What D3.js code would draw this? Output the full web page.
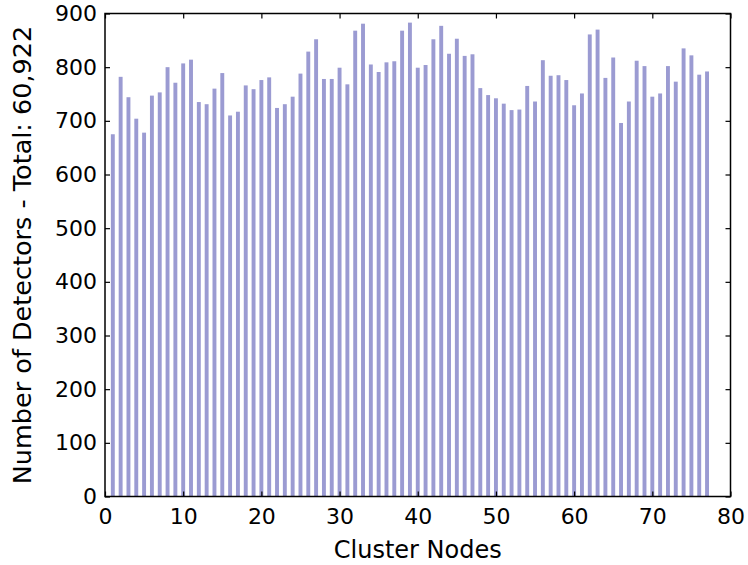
<!DOCTYPE html>
<html>
<head>
<meta charset="utf-8">
<script src="https://cdn.jsdelivr.net/npm/d3@7"></script>
<style>
  html, body { margin: 0; padding: 0; background: #fff; }
  svg { display: block; }
  text { font-family: "DejaVu Sans", sans-serif; fill: #000; }
</style>
</head>
<body>
<script>
// Detectors per cluster node (nodes 1..77)
const nodes = d3.range(1, 78);
const detectors = [
  675, 782, 744, 704, 678, 747, 753, 800, 771, 807,
  814, 735, 731, 760, 789, 710, 717, 766, 759, 776,
  781, 724, 731, 745, 788, 829, 852, 778, 778, 799,
  768, 868, 881, 805, 791, 809, 811, 868, 883, 799,
  804, 852, 877, 825, 853, 821, 824, 761, 748, 742,
  732, 720, 721, 765, 736, 813, 784, 785, 776, 729,
  751, 861, 870, 780, 818, 696, 736, 812, 802, 745,
  751, 802, 773, 835, 822, 786, 792
];
const xTicks = [0, 10, 20, 30, 40, 50, 60, 70, 80];
const yTicks = [0, 100, 200, 300, 400, 500, 600, 700, 800, 900];
const xTitle = "Cluster Nodes";
const yTitle = "Number of Detectors - Total: 60,922";

const W = 748, H = 565;
const margin = { left: 105, right: 17.5, top: 13.5, bottom: 68.5 };
const iw = W - margin.left - margin.right;
const ih = H - margin.top - margin.bottom;

const svg = d3.select("body").append("svg").attr("width", W).attr("height", H);
const g = svg.append("g").attr("transform", `translate(${margin.left},${margin.top})`);

const x = d3.scaleLinear().domain([0, 80]).range([0, iw]);
const y = d3.scaleLinear().domain([0, 900]).range([ih, 0]);
const barW = 0.5;

g.append("defs").append("clipPath").attr("id", "plot")
  .append("rect").attr("width", iw).attr("height", ih);

g.append("g").attr("clip-path", "url(#plot)")
  .selectAll("rect").data(nodes).join("rect")
  .attr("x", (d) => x(d - barW / 2))
  .attr("width", x(barW) - x(0))
  .attr("y", (d, i) => y(detectors[i]))
  .attr("height", (d, i) => y(0) - y(detectors[i]))
  .attr("fill", "#9b9bd2");

const tickLen = 5;
// Inward ticks on all four sides
const axB = g.append("g").attr("transform", `translate(0,${ih})`)
  .call(d3.axisBottom(x).tickValues(xTicks).tickSizeInner(-tickLen).tickSizeOuter(0).tickPadding(12));
const axT = g.append("g")
  .call(d3.axisTop(x).tickValues(xTicks).tickSizeInner(-tickLen).tickSizeOuter(0).tickFormat(""));
const axL = g.append("g")
  .call(d3.axisLeft(y).tickValues(yTicks).tickSizeInner(-tickLen).tickSizeOuter(0).tickPadding(8));
const axR = g.append("g").attr("transform", `translate(${iw},0)`)
  .call(d3.axisRight(y).tickValues(yTicks).tickSizeInner(-tickLen).tickSizeOuter(0).tickFormat(""));

[axB, axT, axL, axR].forEach((a) => {
  a.select(".domain").remove();
  a.selectAll(".tick line").attr("stroke", "#000").attr("stroke-width", 1.2);
  a.selectAll(".tick text").style("font-size", "22px").style("font-family", "DejaVu Sans");
});

g.append("rect").attr("width", iw).attr("height", ih)
  .attr("fill", "none").attr("stroke", "#000").attr("stroke-width", 1.5);

svg.append("text")
  .attr("x", margin.left + iw / 2).attr("y", 558)
  .attr("text-anchor", "middle").style("font-size", "24px")
  .text(xTitle);

svg.append("text")
  .attr("transform", `translate(31,${margin.top + ih / 2}) rotate(-90)`)
  .attr("text-anchor", "middle").style("font-size", "25.5px")
  .text(yTitle);
</script>
</body>
</html>
